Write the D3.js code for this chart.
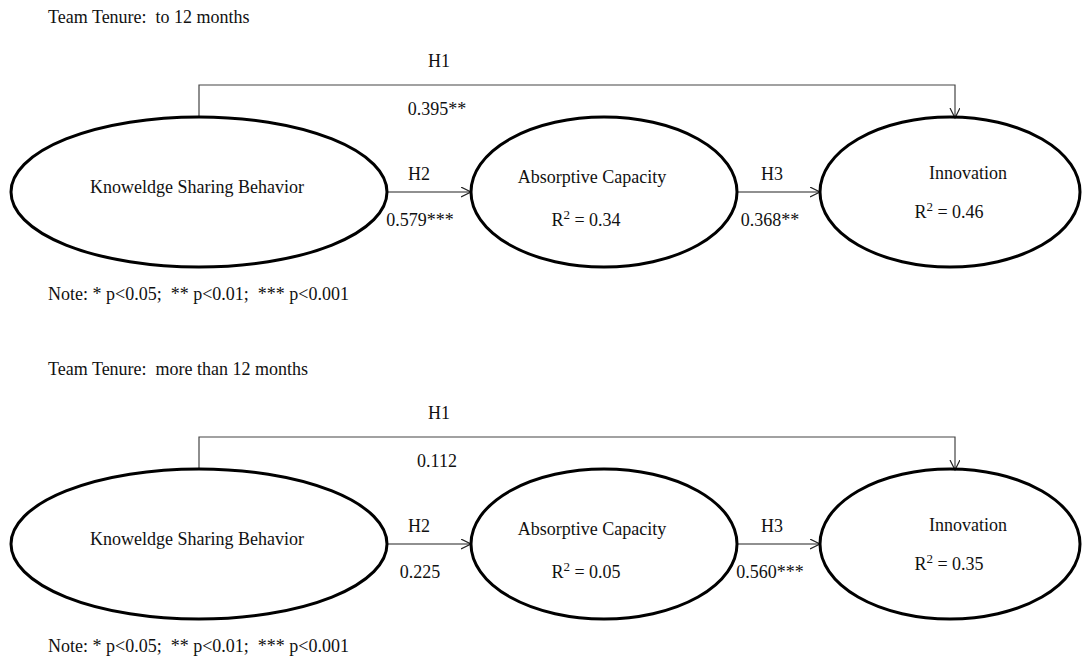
<!DOCTYPE html>
<html>
<head>
<meta charset="utf-8">
<script src="https://cdn.jsdelivr.net/npm/d3@7"></script>
<style>
  body { margin: 0; background: #fff; }
  svg text { font-family: "Liberation Serif", "Times New Roman", serif; font-size: 18px; fill: #111; white-space: pre; }
</style>
</head>
<body>
<svg width="1082" height="657"></svg>
<script>
// data
var panelTitles = ["Team Tenure:  to 12 months", "Team Tenure:  more than 12 months"];
var constructs = ["Knoweldge Sharing Behavior", "Absorptive Capacity", "Innovation"];
var hypotheses = ["H1", "H2", "H3"];
var coefficients = [
    ["0.395**", "0.579***", "0.368**"],
    ["0.112", "0.225", "0.560***"]
];
var rSquared = [
    [null, "0.34", "0.46"],
    [null, "0.05", "0.35"]
];
var noteText = "Note: * p<0.05;  ** p<0.01;  *** p<0.001";

var svg = d3.select("svg");

// layout
var panelY = d3.scaleOrdinal().domain([0, 1]).range([0, 352]);
var nodeX = d3.scaleOrdinal().domain(constructs).range([199, 604, 950]);
var nodeRx = d3.scaleOrdinal().domain(constructs).range([188, 133, 130]);
var cy = 192, ry = 75, h1Y = 85, h1X = 955;
var labelDx = [-2, -12, 18];
var labelY = [193, 183, 179];

svg.append("defs").append("marker")
    .attr("id", "arrow")
    .attr("markerUnits", "userSpaceOnUse")
    .attr("markerWidth", 12).attr("markerHeight", 12)
    .attr("refX", 10).attr("refY", 5)
    .attr("orient", "auto")
    .append("path")
    .attr("d", "M0,0 L10,5 L0,10")
    .attr("fill", "none")
    .attr("stroke", "#222")
    .attr("stroke-width", 1.2);

panelTitles.forEach(function (title, p) {
    var g = svg.append("g").attr("transform", "translate(0," + panelY(p) + ")");

    g.append("text").attr("x", 48).attr("y", 23).text(title);

    // H1 path (direct effect)
    var ksb = constructs[0], inn = constructs[2];
    g.append("path")
        .attr("d", "M" + nodeX(ksb) + "," + (cy - ry) + " V" + h1Y + " H" + h1X + " V" + (cy - ry + 1))
        .attr("fill", "none")
        .attr("stroke", "#444")
        .attr("stroke-width", 1.2)
        .attr("marker-end", "url(#arrow)");
    g.append("text").attr("x", 439).attr("y", 67).attr("text-anchor", "middle").text(hypotheses[0]);
    g.append("text").attr("x", 437).attr("y", 115).attr("text-anchor", "middle").text(coefficients[p][0]);

    // H2, H3 paths
    var hx = [419, 772], cx = [420, 770];
    for (var i = 0; i < 2; i++) {
        var from = constructs[i], to = constructs[i + 1];
        g.append("line")
            .attr("x1", nodeX(from) + nodeRx(from)).attr("y1", cy)
            .attr("x2", nodeX(to) - nodeRx(to)).attr("y2", cy)
            .attr("stroke", "#222")
            .attr("stroke-width", 1.2)
            .attr("marker-end", "url(#arrow)");
        g.append("text").attr("x", hx[i]).attr("y", 180).attr("text-anchor", "middle").text(hypotheses[i + 1]);
        g.append("text").attr("x", cx[i]).attr("y", 226).attr("text-anchor", "middle").text(coefficients[p][i + 1]);
    }

    // constructs
    g.selectAll(".node")
        .data(constructs)
        .enter().append("ellipse")
        .attr("class", "node")
        .attr("cx", function (d) { return nodeX(d); })
        .attr("cy", cy)
        .attr("rx", function (d) { return nodeRx(d); })
        .attr("ry", ry)
        .attr("fill", "none")
        .attr("stroke", "#000")
        .attr("stroke-width", 3);

    g.selectAll(".nlabel")
        .data(constructs)
        .enter().append("text")
        .attr("class", "nlabel")
        .attr("x", function (d, i) { return nodeX(d) + labelDx[i]; })
        .attr("y", function (d, i) { return labelY[i]; })
        .attr("text-anchor", "middle")
        .text(function (d) { return d; });

    var r2x = [0, 586, 949], r2y = [0, 226, 218];
    rSquared[p].forEach(function (v, i) {
        if (v === null) return;
        var t = g.append("text").attr("x", r2x[i]).attr("y", r2y[i]).attr("text-anchor", "middle");
        t.append("tspan").text("R");
        t.append("tspan").attr("dy", -7).attr("font-size", "13px").text("2");
        t.append("tspan").attr("dy", 7).text(" = " + v);
    });

    g.append("text").attr("x", 48).attr("y", 300).text(noteText);
});
</script>
</body>
</html>
